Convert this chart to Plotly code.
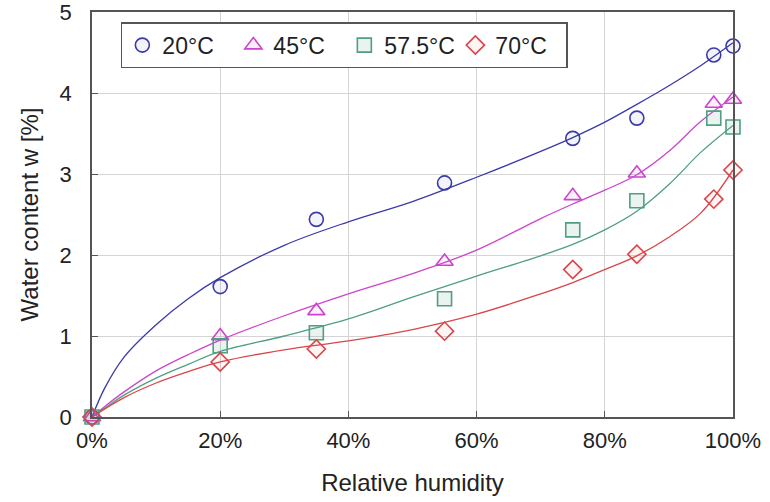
import plotly.graph_objects as go

# Measured data (relative humidity in %, water content in %)
rh_points = [0, 20, 35, 55, 75, 85, 97, 100]
w_20 = [0, 1.61, 2.44, 2.89, 3.44, 3.69, 4.47, 4.58]
w_45 = [0, 1.00, 1.31, 1.92, 2.73, 3.01, 3.87, 3.92]
w_575 = [0, 0.88, 1.04, 1.46, 2.31, 2.67, 3.69, 3.58]
w_70 = [0, 0.68, 0.84, 1.06, 1.82, 2.01, 2.69, 3.05]

# Fitted curves
rh_curve = [0, 2, 5, 10, 15, 20, 30, 40, 50, 60, 70, 75, 80, 85, 90, 95, 100]
c_20 = [0, 0.36, 0.74, 1.14, 1.46, 1.72, 2.12, 2.41, 2.66, 2.96, 3.28, 3.45, 3.64, 3.86, 4.09, 4.34, 4.62]
c_45 = [0, 0.13, 0.31, 0.57, 0.77, 0.95, 1.25, 1.52, 1.77, 2.06, 2.45, 2.63, 2.80, 2.99, 3.28, 3.65, 3.95]
c_575 = [0, 0.11, 0.27, 0.48, 0.65, 0.81, 1.00, 1.21, 1.48, 1.74, 1.99, 2.13, 2.31, 2.54, 2.87, 3.27, 3.60]
c_70 = [0, 0.10, 0.24, 0.42, 0.56, 0.68, 0.83, 0.94, 1.08, 1.27, 1.52, 1.66, 1.82, 1.99, 2.22, 2.52, 3.05]

labels = ["20°C", "45°C", "57.5°C", "70°C"]
colors = ["#3a3aaa", "#cc44cc", "#4f9f80", "#d9464a"]
fills = ["rgba(58,58,170,0.06)", "rgba(204,68,204,0.08)", "rgba(79,159,128,0.12)", "rgba(217,70,74,0.06)"]
symbols = ["circle", "triangle-up", "square", "diamond"]
sizes = [14, 15, 14, 14]

y_ticks = [0, 1, 2, 3, 4, 5]
x_ticks = [0, 20, 40, 60, 80, 100]
x_ticklabels = ["0%", "20%", "40%", "60%", "80%", "100%"]

FONT = "Liberation Sans, Arial, Helvetica, sans-serif"

fig = go.Figure()
for cw, col in zip([c_20, c_45, c_575, c_70], colors):
    fig.add_trace(go.Scatter(x=rh_curve, y=cw, mode="lines", line=dict(color=col, width=1.3, shape="spline", smoothing=1.0),
                             showlegend=False, hoverinfo="skip", cliponaxis=False))
for w, lab, col, fc, sym, sz in zip([w_20, w_45, w_575, w_70], labels, colors, fills, symbols, sizes):
    fig.add_trace(go.Scatter(x=rh_points, y=w, mode="markers", name=lab,
                             marker=dict(symbol=sym, size=sz, color=fc, line=dict(color=col, width=1.6)),
                             cliponaxis=False))

axis_common = dict(showline=True, linecolor="#555555", linewidth=1.6, mirror=True,
                   ticks="inside", ticklen=6, tickcolor="#555555", tickwidth=1,
                   showgrid=True, gridcolor="#d4d4d4", gridwidth=1, zeroline=False,
                   automargin=False, ticklabeloverflow="allow",
                   tickfont=dict(family=FONT, size=22, color="#222222"))

fig.update_xaxes(range=[0, 100], tickvals=x_ticks, ticktext=x_ticklabels,
                 title=dict(text="Relative humidity", font=dict(family=FONT, size=24, color="#222222"), standoff=22),
                 ticklabelstandoff=3, **axis_common)
fig.update_yaxes(range=[0, 5], tickvals=y_ticks,
                 title=dict(text="Water content w [%]", font=dict(family=FONT, size=24, color="#222222"), standoff=14),
                 ticklabelstandoff=14, **axis_common)

fig.update_layout(
    width=770, height=502,
    margin=dict(l=92, r=37, t=12, b=85),
    paper_bgcolor="white", plot_bgcolor="white",
    font=dict(family=FONT, size=22, color="#222222"),
    legend=dict(orientation="h", x=0.045, y=0.975, xanchor="left", yanchor="top",
                bgcolor="white", bordercolor="#555555", borderwidth=1.5,
                entrywidth=66, entrywidthmode="pixels",
                font=dict(family=FONT, size=23, color="#222222")),
    showlegend=True,
)

fig.write_html("out.html", config={"displayModeBar": False},
               post_script="document.body.style.margin='0px';")
